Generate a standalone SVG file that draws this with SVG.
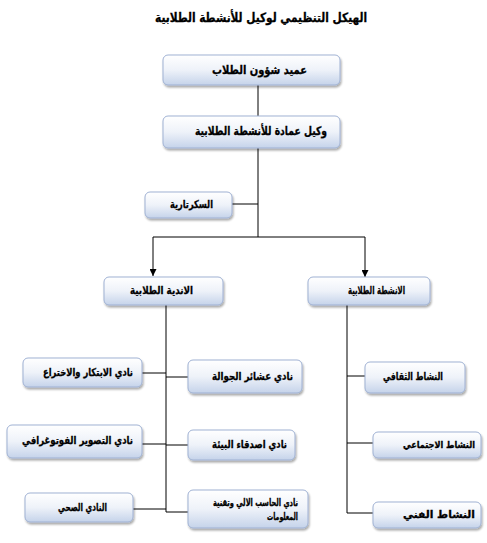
<svg xmlns="http://www.w3.org/2000/svg" width="487" height="543" viewBox="0 0 487 543">
<defs>
<linearGradient id="g" x1="0" y1="0" x2="0" y2="1">
<stop offset="0" stop-color="#ffffff"/>
<stop offset="0.5" stop-color="#eef2f9"/>
<stop offset="1" stop-color="#c5d3ea"/>
</linearGradient>
<filter id="sh" x="-10%" y="-20%" width="125%" height="150%">
<feGaussianBlur in="SourceAlpha" stdDeviation="1.2"/>
<feOffset dx="1" dy="2"/>
<feComponentTransfer><feFuncA type="linear" slope="0.35"/></feComponentTransfer>
<feMerge><feMergeNode/><feMergeNode in="SourceGraphic"/></feMerge>
</filter>
<marker id="ar" viewBox="0 0 10 10" refX="10" refY="5" markerWidth="7" markerHeight="7" markerUnits="userSpaceOnUse" orient="auto">
<path d="M0,0 L10,5 L0,10 z" fill="#000"/>
</marker>
</defs>
<style>
.box{fill:url(#g);stroke:#9fb1d3;stroke-width:1;filter:url(#sh)}
text{font-family:"DejaVu Sans","Noto Sans",sans-serif;font-weight:bold;font-size:11px;fill:#000;stroke:#000;stroke-width:0.3}
.c{text-anchor:middle}
.r{text-anchor:end}
.ln{stroke:#000;stroke-width:1;fill:none}
</style>
<rect width="487" height="543" fill="#fff"/>
<text x="261" y="22" class="c" style="font-size:13px" textLength="212" lengthAdjust="spacingAndGlyphs">الهيكل التنظيمي لوكيل  للأنشطة الطلابية</text>
<g id="connectors">
<path class="ln" d="M258,85 V116"/>
<path class="ln" d="M258,148 V237"/>
<path class="ln" d="M232,204 H258"/>
<path class="ln" d="M153,237 H365"/>
<path class="ln" d="M153,237 V276" marker-end="url(#ar)"/>
<path class="ln" d="M365,237 V277" marker-end="url(#ar)"/>
<path class="ln" d="M166,305 V512"/>
<path class="ln" d="M142,373 H166"/>
<path class="ln" d="M142,444 H166"/>
<path class="ln" d="M133,509 H166"/>
<path class="ln" d="M166,377 H188"/>
<path class="ln" d="M166,445 H188"/>
<path class="ln" d="M166,512 H188"/>
<path class="ln" d="M347,305 V513"/>
<path class="ln" d="M347,376 H365"/>
<path class="ln" d="M347,443 H373"/>
<path class="ln" d="M347,513 H373"/>
</g>
<g id="dean"><rect class="box" x="163" y="55" width="177" height="30" rx="5"/><text x="259.5" y="74" class="c" style="font-size:12px" textLength="95" lengthAdjust="spacingAndGlyphs">عميد شؤون الطلاب</text></g>
<g id="vice"><rect class="box" x="163" y="116" width="177" height="32" rx="5"/><text x="261" y="135" class="c" style="font-size:12px" textLength="132" lengthAdjust="spacingAndGlyphs">وكيل عمادة للأنشطة الطلابية</text></g>
<g id="secretary"><rect class="box" x="145" y="192" width="87" height="26" rx="5"/><text x="191.5" y="208" class="c" textLength="43" lengthAdjust="spacingAndGlyphs">السكرتارية</text></g>
<g id="clubs"><rect class="box" x="104" y="277" width="119" height="28" rx="5"/><text x="161.5" y="294" class="c" textLength="63" lengthAdjust="spacingAndGlyphs">الاندية الطلابية</text></g>
<g id="activities"><rect class="box" x="308" y="277" width="122" height="28" rx="5"/><text x="376.5" y="294" class="c" textLength="57" lengthAdjust="spacingAndGlyphs">الانشطة الطلابية</text></g>
<g id="innovation"><rect class="box" x="23" y="358" width="119" height="29" rx="5"/><text x="133" y="376" class="r" textLength="90" lengthAdjust="spacingAndGlyphs">نادي  الابتكار والاختراع</text></g>
<g id="photo"><rect class="box" x="7" y="425" width="135" height="33" rx="5"/><text x="133" y="444" class="r" textLength="111" lengthAdjust="spacingAndGlyphs">نادي التصوير الفوتوغرافي</text></g>
<g id="health"><rect class="box" x="25" y="493" width="108" height="29" rx="5"/><text x="82.5" y="511" class="c" textLength="49" lengthAdjust="spacingAndGlyphs">النادي  الصحي</text></g>
<g id="rovers"><rect class="box" x="188" y="360" width="114" height="33" rx="5"/><text x="293" y="380" class="r" textLength="81" lengthAdjust="spacingAndGlyphs">نادي عشائر الجوالة</text></g>
<g id="environment"><rect class="box" x="188" y="430" width="107" height="30" rx="5"/><text x="287" y="448" class="r" textLength="75" lengthAdjust="spacingAndGlyphs">نادي اصدقاء البيئة</text></g>
<g id="computer"><rect class="box" x="188" y="490" width="120" height="38" rx="5"/><text x="298" y="506" class="r" style="font-size:10px" textLength="85" lengthAdjust="spacingAndGlyphs">نادي  الحاسب الالي وتقنية</text><text x="298" y="520" class="r" style="font-size:10px" textLength="31" lengthAdjust="spacingAndGlyphs">المعلومات</text></g>
<g id="cultural"><rect class="box" x="365" y="362" width="100" height="31" rx="5"/><text x="413" y="380" class="c" textLength="60" lengthAdjust="spacingAndGlyphs">النشاط الثقافي</text></g>
<g id="social"><rect class="box" x="373" y="432" width="108" height="26" rx="5"/><text x="475" y="448" class="r" style="font-size:9.5px" textLength="72" lengthAdjust="spacingAndGlyphs">النشاط الاجتماعي</text></g>
<g id="art"><rect class="box" x="373" y="502" width="108" height="26" rx="5"/><text x="475" y="518" class="r" style="font-size:10px" textLength="72" lengthAdjust="spacingAndGlyphs">النشاط   الفني</text></g>
</svg>
